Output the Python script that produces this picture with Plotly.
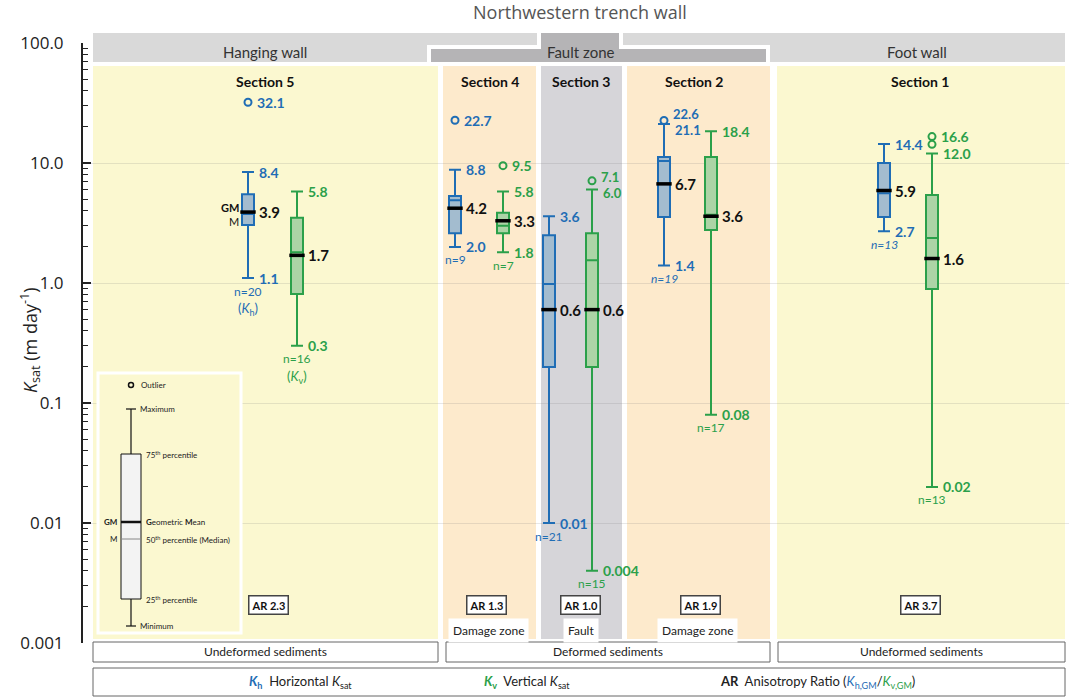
import numpy as np
import plotly.graph_objects as go

# ---------------- data ----------------
sections = ["Section 5", "Section 4", "Section 3", "Section 2", "Section 1"]

kh_min = [1.1, 2.0, 0.01, 1.4, 2.7]
kh_q1 = [3.05, 2.6, 0.2, 3.55, 3.55]
kh_med = [3.75, 4.9, 0.98, 10.4, 5.6]
kh_q3 = [5.5, 5.3, 2.5, 11.2, 10.0]
kh_max = [8.4, 8.8, 3.6, 21.1, 14.4]
kh_gm = [3.9, 4.2, 0.6, 6.7, 5.9]
kh_n = [20, 9, 21, 19, 13]
kh_out = [[32.1], [22.7], [], [22.6], []]
kh_out_text = [["32.1"], ["22.7"], [], ["22.6"], []]

kv_min = [0.3, 1.8, 0.004, 0.08, 0.02]
kv_q1 = [0.81, 2.6, 0.2, 2.77, 0.89]
kv_med = [1.8, 3.0, 1.55, 3.7, 2.37]
kv_q3 = [3.5, 3.85, 2.6, 11.2, 5.4]
kv_max = [5.8, 5.8, 6.0, 18.4, 12.0]
kv_gm = [1.7, 3.3, 0.6, 3.6, 1.6]
kv_n = [16, 7, 15, 17, 13]
kv_out = [[], [9.5], [7.1], [], [16.6, 14.3]]
kv_out_text = [[], ["9.5"], ["7.1"], [], ["16.6", ""]]

ytick_vals = [0.001, 0.01, 0.1, 1, 10, 100]
ytick_text = ["0.001", "0.01", "0.1", "1.0", "10.0", "100.0"]

zone_labels = ["Damage zone", "Fault", "Damage zone"]
sediment_labels = ["Undeformed sediments", "Deformed sediments", "Undeformed sediments"]
wall_labels = ["Hanging wall", "Fault zone", "Foot wall"]

# ---------------- layout constants (pixels) ----------------
W, H = 1069, 698
L, T, B = 83, 43, 643
pos_h = [248, 455, 549, 664, 884]
pos_v = [297, 503, 592, 711, 932]
n_italic_h = [False, False, False, True, True]

BLUE = "#1f6db5"
GREEN = "#2ba04a"
BLUE_FILL = "#a3bccf"
GREEN_FILL = "#acd4a6"
YEL = "#fbf8d0"
ORA = "#fdeacc"
GRY = "#d6d5d9"
FONT = "Lato"
PX_PER_DEC = (B - T) / 5.0


def py(p):
    return (B - p) / (B - T)


def fmt(v):
    return f"{v:.1f}" if v >= 0.1 else f"{v:g}"


fig = go.Figure()
shapes = []
ann = []


def pann(x, y, text, size, color, family=FONT, xanchor="center", **kw):
    ann.append(dict(x=x, y=py(y), xref="x", yref="paper", text=text, showarrow=False,
                    xanchor=xanchor, yanchor="middle",
                    font=dict(family=family, size=size, color=color), **kw))


def rect(x0, x1, y0, y1, fill, line=None, layer="above"):
    shapes.append(dict(type="rect", xref="x", yref="paper", x0=x0, x1=x1, y0=py(y1), y1=py(y0),
                       fillcolor=fill, line=line or dict(width=0), layer=layer))


# section backgrounds
bgs = [(93, 438, YEL), (443, 536, ORA), (541, 622, GRY), (627, 770, ORA), (777, 1065, YEL)]
for x0, x1, c in bgs:
    rect(x0, x1, 66, 639, c, layer="below")
sec_cx = [265, 490, 581, 694, 920]
for s, cx in zip(sections, sec_cx):
    pann(cx, 82, f"<b>{s}</b>", 14, "#111")

# header bars
rect(93, 1065, 33, 62, "#d9d9d9")
rect(427, 770, 45, 62, "white")
rect(537, 623, 29, 45, "white")
rect(431, 766, 49, 62, "#b5b4b6")
rect(541, 619, 33, 62, "#b5b4b6")
for t, cx in zip(wall_labels, [265, 581, 917]):
    pann(cx, 52, t, 15, "#333")
pann(580, 12, "Northwestern trench wall", 18, "#555", family="Open Sans")

# boxes
for i in range(5):
    for pos, mn, q1, md, q3, mx, col, fill in [
        (pos_h[i], kh_min[i], kh_q1[i], kh_med[i], kh_q3[i], kh_max[i], BLUE, BLUE_FILL),
        (pos_v[i], kv_min[i], kv_q1[i], kv_med[i], kv_q3[i], kv_max[i], GREEN, GREEN_FILL),
    ]:
        fig.add_trace(go.Box(x=[pos], q1=[q1], median=[md], q3=[q3], lowerfence=[mn], upperfence=[mx],
                             width=12, whiskerwidth=1, line=dict(color=col, width=2), fillcolor=fill,
                             boxpoints=False, showlegend=False, hoverinfo="skip"))

# geometric means
fig.add_trace(go.Scatter(x=pos_h + pos_v, y=kh_gm + kv_gm, mode="markers", showlegend=False,
                         marker=dict(symbol="line-ew", size=11, line=dict(width=3.5, color="black")),
                         hoverinfo="skip"))

# outliers
for pos_list, outs, col in [(pos_h, kh_out, BLUE), (pos_v, kv_out, GREEN)]:
    xs, ys = [], []
    for p, o in zip(pos_list, outs):
        xs += [p] * len(o)
        ys += o
    fig.add_trace(go.Scatter(x=xs, y=ys, mode="markers", showlegend=False, hoverinfo="skip",
                             marker=dict(symbol="circle-open", size=7, color=col, line=dict(width=2))))


def lab(x, v, text, color, size=14, bold=True, yshift=0, italic=False, xanchor="left"):
    t = f"<b>{text}</b>" if bold else text
    if italic:
        t = f"<i>{t}</i>"
    ann.append(dict(x=x, y=np.log10(v), xref="x", yref="y", text=t, showarrow=False, xanchor=xanchor,
                    yanchor="middle", yshift=yshift, font=dict(family=FONT, size=size, color=color)))


def sep(o, mx, need=16.0):
    d = PX_PER_DEC * np.log10(o / mx)
    if d >= need:
        return 0.0
    return (need - d) / 2.0


for pos_list, mins, maxs, gms, ns, outs, otexts, col, ital in [
    (pos_h, kh_min, kh_max, kh_gm, kh_n, kh_out, kh_out_text, BLUE, n_italic_h),
    (pos_v, kv_min, kv_max, kv_gm, kv_n, kv_out, kv_out_text, GREEN, [False] * 5),
]:
    for i in range(5):
        p = pos_list[i]
        s = max([sep(o, maxs[i]) for o, t in zip(outs[i], otexts[i]) if t] + [0.0])
        lab(p + 9, maxs[i], fmt(maxs[i]), col, size=13 if s else 14, yshift=-s)
        lab(p + 9, mins[i], fmt(mins[i]), col)
        lab(p + 9, gms[i], fmt(gms[i]), "#111", size=15)
        lab(p, mins[i], f"n={ns[i]}", col, size=12, bold=False, yshift=-13, italic=ital[i],
            xanchor="center")
        for o, t in zip(outs[i], otexts[i]):
            if t:
                lab(p + 7, o, t, col, size=13 if s else 14, yshift=s)

# GM / M labels and (Kh)/(Kv) for section 5
lab(pos_h[0] - 7, kh_gm[0], "GM", "#111", size=11, xanchor="right", yshift=5)
lab(pos_h[0] - 7, kh_med[0], "M", "#111", size=11, bold=False, xanchor="right", yshift=-7)
lab(pos_h[0], kh_min[0], "(<i>K</i><sub>h</sub>)", BLUE, size=13, bold=False, yshift=-31,
    xanchor="center")
lab(pos_v[0], kv_min[0], "(<i>K</i><sub>v</sub>)", GREEN, size=13, bold=False, yshift=-31,
    xanchor="center")

# anisotropy ratio boxes
ar_cx = [268, 486, 580, 700, 920]
for i in range(5):
    ar = round(kh_gm[i] / kv_gm[i], 1)
    pann(ar_cx[i], 605, f"<b>AR {ar:.1f}</b>", 11, "#111", bgcolor="white", bordercolor="#444",
         borderwidth=1.5, borderpad=2)

# zone labels
for t, cx in zip(zone_labels, [488, 581, 697]):
    pann(cx, 630, t, 12, "#222", bgcolor="white", borderpad=4)

# sediment boxes
for t, (x0, x1) in zip(sediment_labels, [(93, 438), (446, 770), (778, 1065)]):
    rect(x0, x1, 642, 662, "white", line=dict(color="#666", width=1))
    pann((x0 + x1) / 2, 652, t, 12, "#222")

# bottom legend box
rect(93, 1065, 668, 696, "white", line=dict(color="#666", width=1))
leg_items = [
    (300, f'<span style="color:{BLUE}"><b><i>K</i><sub>h</sub></b></span>  Horizontal <i>K</i><sub>sat</sub>'),
    (527, f'<span style="color:{GREEN}"><b><i>K</i><sub>v</sub></b></span>  Vertical <i>K</i><sub>sat</sub>'),
    (817, f'<b>AR</b>  Anisotropy Ratio (<span style="color:{BLUE}"><i>K</i><sub>h,GM</sub></span>/'
          f'<span style="color:{GREEN}"><i>K</i><sub>v,GM</sub></span>)'),
]
for cx, t in leg_items:
    pann(cx, 682, t, 13, "#222")

# inset legend
rect(98, 241, 373, 633, YEL, line=dict(color="white", width=3))
cx = 131
for (x0, y0, x1, y1) in [(cx, 409, cx, 454), (cx, 599, cx, 626), (cx - 5, 409, cx + 5, 409),
                         (cx - 5, 626, cx + 5, 626)]:
    shapes.append(dict(type="line", xref="x", yref="paper", x0=x0, x1=x1, y0=py(y0), y1=py(y1),
                       line=dict(color="#111", width=1.2), layer="above"))
rect(121, 141, 454, 599, "#f3f3f3", line=dict(color="#111", width=1))
shapes.append(dict(type="line", xref="x", yref="paper", x0=121, x1=141, y0=py(522), y1=py(522),
                   line=dict(color="#111", width=2.5), layer="above"))
shapes.append(dict(type="line", xref="x", yref="paper", x0=121, x1=141, y0=py(539), y1=py(539),
                   line=dict(color="#888", width=1), layer="above"))
shapes.append(dict(type="circle", xref="x", yref="paper", x0=128.5, x1=133.5, y0=py(387.5), y1=py(382.5),
                   line=dict(color="#111", width=1.5), layer="above"))
inset_txt = [(139, 385, "Outlier", "left"), (138, 409, "Maximum", "left"),
             (144, 454, "75<sup>th</sup> percentile", "left"),
             (144, 522, "<b>G</b>eometric <b>M</b>ean", "left"),
             (144, 539, "50<sup>th</sup> percentile (Median)", "left"),
             (144, 599, "25<sup>th</sup> percentile", "left"), (138, 626, "Minimum", "left"),
             (119, 522, "<b>GM</b>", "right"), (119, 539, "M", "right")]
for x, y, t, xa in inset_txt:
    pann(x, y, t, 8, "#222", xanchor=xa)

# y axis title
ann.append(dict(x=(30 - L) / (W - L), y=py(340), xref="paper", yref="paper", xanchor="center",
                yanchor="middle", text="<i>K</i><sub>sat</sub> (m day<sup>-1</sup>)", textangle=-90,
                showarrow=False, font=dict(family="Open Sans", size=18, color="#222")))

fig.update_layout(
    width=W, height=H, margin=dict(l=L, r=0, t=T, b=H - B),
    paper_bgcolor="white", plot_bgcolor="white", boxmode="overlay",
    shapes=shapes, annotations=ann, showlegend=False,
    xaxis=dict(range=[L, W], visible=False, fixedrange=True),
    yaxis=dict(type="log", range=[-3, 2], tickvals=ytick_vals, ticktext=ytick_text,
               showline=True, linecolor="#222", linewidth=2, ticks="inside", ticklen=8, tickwidth=1.5,
               tickcolor="#222", showgrid=True, gridcolor="rgba(120,120,120,0.18)", gridwidth=1,
               tickfont=dict(family="Open Sans", size=17, color="#222"), ticklabelstandoff=14,
               minor=dict(ticks="inside", ticklen=5, tickwidth=1.2, tickcolor="#222", dtick="D1",
                          showgrid=False)),
)

fig.write_html("out.html")
